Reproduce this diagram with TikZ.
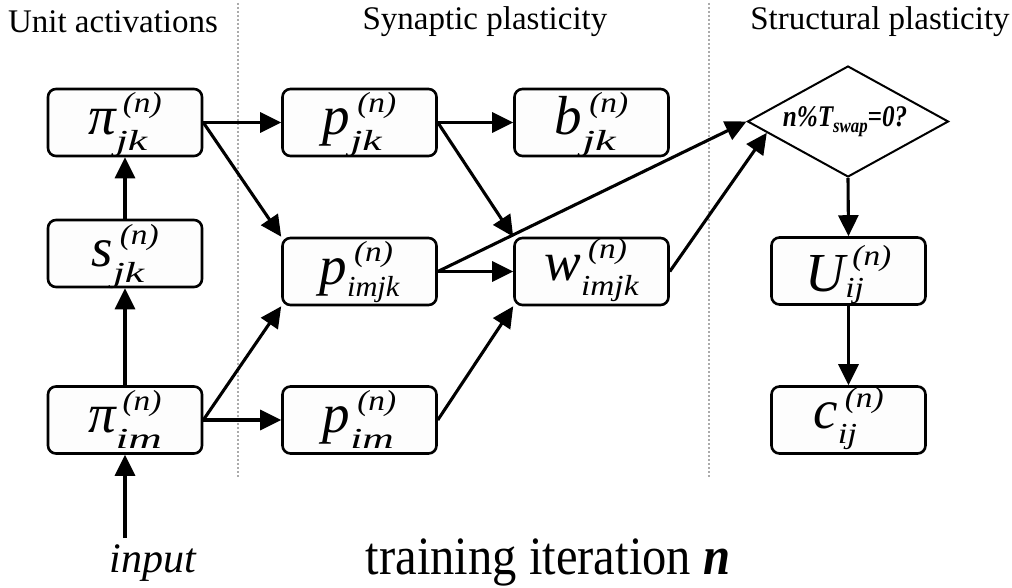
\documentclass[tikz,border=0pt]{standalone}
\usepackage{fontspec}
\setmainfont{Liberation Serif}
\usetikzlibrary{arrows.meta,shapes.geometric,calc}

% base symbol with superscript (n) and a subscript index
% #1 base, #2 index, #3 horizontal stretch of the index,
% #4 raise of (n), #5 drop of the index
\newcommand{\msymx}[5]{{\fontsize{55}{55}\selectfont\itshape #1}%
  \raisebox{-#5}{\vbox{\baselineskip=\dimexpr#4+#5\relax\lineskiplimit=-100pt
    \hbox{\kern7pt\scalebox{1.15}[1]{\fontsize{29}{29}\selectfont\itshape (n)}}%
    \hbox{\scalebox{#3}[1]{\fontsize{29}{29}\selectfont\itshape #2}}}}}
\newcommand{\msym}[3]{\msymx{#1}{#2}{#3}{22pt}{16pt}}

\definecolor{boxfill}{HTML}{FDFDFD}
\definecolor{sepgray}{HTML}{ABABAB}

\tikzset{
  unitbox/.style={draw, line width=2.6pt, rounded corners=8pt, fill=boxfill,
    minimum width=154pt, minimum height=67pt, inner sep=0pt,
    text height=42pt, text depth=17pt},
  arr/.style={line width=3.1pt, -{Triangle[length=21pt,width=20pt]}},
  header/.style={font=\fontsize{33}{33}\selectfont, inner sep=0pt},
  sep/.style={draw=sepgray, line width=1.5pt, dash pattern=on 2pt off 2pt},
}

\begin{document}
\begin{tikzpicture}[x=1pt,y=-1pt]
\useasboundingbox[fill=white] (0,0) rectangle (1012,588);

% column separators
\coordinate (s1t) at (238,3);   \coordinate (s1b) at (238,477);
\coordinate (s2t) at (709,3);   \coordinate (s2b) at (709,477);
\draw[sep] (s1t) -- (s1b);
\draw[sep] (s2t) -- (s2b);

% column headers
\node[header] (h1) at (113,22) {Unit activations};
\node[header] (h2) at (485,22) {Synaptic plasticity};
\node[header] (h3) at (880,22) {Structural plasticity};

% unit activations
\node[unitbox] (pijk) at (125,122.5) {\msym{π}{jk}{1.5}};
\node[unitbox] (sjk)  at (125,253.5) {\msym{s}{jk}{1.5}};
\node[unitbox] (piim) at (125,420) {\msym{π}{im}{1.6}};

% synaptic plasticity
\node[unitbox] (pjk)   at (359.5,122.5) {\msym{p}{jk}{1.5}};
\node[unitbox] (pimjk) at (359.5,271.5) {\msymx{p}{imjk}{1.05}{23pt}{12pt}};
\node[unitbox] (pim)   at (359.5,420) {\msym{p}{im}{1.5}};
\node[unitbox] (bjk)   at (591.5,122.5) {\msym{b}{jk}{1.6}};
\node[unitbox, text height=38pt, text depth=21pt] (wimjk) at (591.5,271.5)
  {\msymx{w}{imjk}{1.15}{22pt}{15pt}};

% structural plasticity
\node[diamond, draw, line width=2pt, fill=white, minimum width=201pt,
      minimum height=111pt, inner sep=0pt] (sw) at (848,121.5) {};
\node[inner sep=0pt, font=\fontsize{30}{30}\selectfont\bfseries\itshape] (swt) at (845,121.5)
  {\scalebox{0.84}[1]{n\%T\raisebox{-6pt}{\fontsize{20}{20}\selectfont swap}=0?}};
\node[unitbox, text height=48pt, text depth=7pt] (uij) at (848.5,271)
  {\msymx{U}{ij}{1.15}{26pt}{6pt}};
\node[unitbox, text height=38pt, text depth=21pt] (cij) at (848.5,420)
  {\msymx{c}{ij}{1.2}{21pt}{15pt}};

% bottom labels
\node[inner sep=0pt, font=\fontsize{42}{42}\selectfont\itshape] (inp) at (153,563) {input};
\node[inner sep=0pt, font=\fontsize{54}{54}\selectfont] (iter) at (548,562)
  {\scalebox{0.9}[1]{training iteration \textbf{\textit{n}}}};
\coordinate (inbot) at (125,538);

% connectors
\draw[arr] (inbot) -- (piim.south);
\draw[arr] (piim.north) -- (sjk.south);
\draw[arr] (sjk.north) -- (pijk.south);
\draw[arr] (pijk.east) -- (pjk.west);
\draw[arr] (pijk.east) -- (pimjk.north west);
\draw[arr] (piim.east) -- (pimjk.south west);
\draw[arr] (piim.east) -- (pim.west);
\draw[arr] (pjk.east) -- (bjk.west);
\draw[arr] (pjk.east) -- (wimjk.north west);
\draw[arr] (pimjk.east) -- (wimjk.west);
\draw[arr] (pimjk.east) -- (sw.west);
\draw[arr] (pim.east) -- (wimjk.south west);
\draw[arr] (wimjk.east) -- ($(sw.west)!0.2!(sw.south)$);
\draw[arr] (sw.south) -- (uij.north);
\draw[arr] (uij.south) -- (cij.north);
\end{tikzpicture}
\end{document}
